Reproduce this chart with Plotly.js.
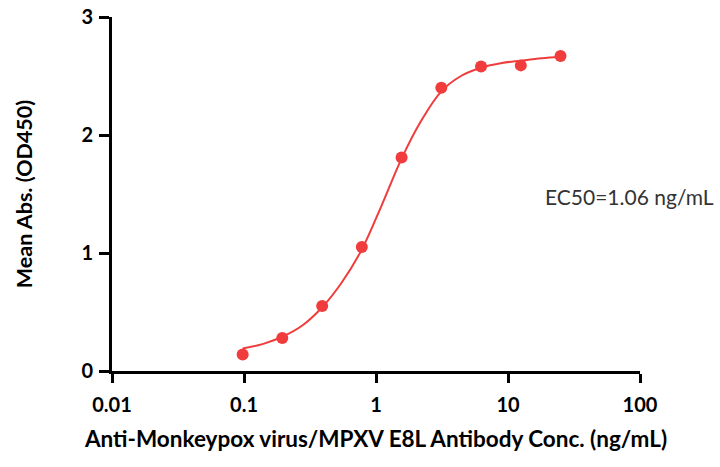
<!DOCTYPE html>
<html>
<head>
<meta charset="utf-8">
<script src="https://cdn.plot.ly/plotly-3.0.1.min.js"></script>
<style>html,body{margin:0;padding:0;background:#fff;}#chart{width:720px;height:467px;}</style>
</head>
<body>
<div id="chart"></div>
<script>
// Measured data points
const concX = [0.0977, 0.195, 0.391, 0.781, 1.5625, 3.125, 6.25, 12.5, 25];
const absY = [0.14, 0.28, 0.55, 1.05, 1.81, 2.40, 2.58, 2.59, 2.67];
// Fitted curve
const curveX = [0.0977, 0.14, 0.195, 0.28, 0.391, 0.55, 0.781, 1.1, 1.5625, 2.2, 3.125, 4.4, 6.25, 9, 12.5, 18, 25];
const curveY = [0.19, 0.23, 0.29, 0.39, 0.54, 0.75, 1.03, 1.40, 1.80, 2.12, 2.37, 2.50, 2.57, 2.61, 2.63, 2.65, 2.66];
// Tick labels
const xTickVals = [0.01, 0.1, 1, 10, 100];
const xTickText = ['0.01', '0.1', '1', '10', '100'];
const yTickVals = [0, 1, 2, 3];
const yTickText = ['0', '1', '2', '3'];

const red = '#f03c3c';
const fontFam = 'Lato, sans-serif';

const traces = [
  {x: curveX, y: curveY, type: 'scatter', mode: 'lines',
   line: {color: red, width: 2, shape: 'spline', smoothing: 1}, hoverinfo: 'skip'},
  {x: concX, y: absY, type: 'scatter', mode: 'markers',
   marker: {color: red, size: 12}}
];

const layout = {
  width: 720, height: 467,
  margin: {l: 112, r: 80, t: 17, b: 96},
  paper_bgcolor: '#fff', plot_bgcolor: '#fff',
  showlegend: false,
  font: {family: fontFam, color: '#000'},
  xaxis: {
    type: 'log', range: [-2, 2],
    tickvals: xTickVals, ticktext: xTickText,
    ticks: 'outside', ticklen: 9, tickwidth: 3, tickcolor: '#000',
    showline: true, linewidth: 3, linecolor: '#000',
    showgrid: false, zeroline: false,
    tickfont: {family: fontFam, size: 20, color: '#000', weight: 'bold'},
    ticklabelstandoff: 5,
    title: {text: 'Anti-Monkeypox virus/MPXV E8L Antibody Conc. (ng/mL)',
            font: {family: fontFam, size: 22.5, color: '#000', weight: 'bold'}, standoff: 17}
  },
  yaxis: {
    range: [0, 3],
    tickvals: yTickVals, ticktext: yTickText,
    ticks: 'outside', ticklen: 10, tickwidth: 3, tickcolor: '#000',
    showline: true, linewidth: 3, linecolor: '#000',
    showgrid: false, zeroline: false,
    tickfont: {family: fontFam, size: 20, color: '#000', weight: 'bold'},
    ticklabelstandoff: 2,
    title: {text: 'Mean Abs. (OD450)',
            font: {family: fontFam, size: 21.5, color: '#000', weight: 'bold'}, standoff: 43}
  },
  annotations: [{
    text: 'EC50=1.06 ng/mL', xref: 'paper', yref: 'paper',
    x: 1.143, y: 0.492, xanchor: 'right', yanchor: 'middle', showarrow: false,
    font: {family: fontFam, size: 21, color: '#333'}
  }]
};

Plotly.newPlot('chart', traces, layout, {displayModeBar: false, staticPlot: true});
</script>
</body>
</html>
